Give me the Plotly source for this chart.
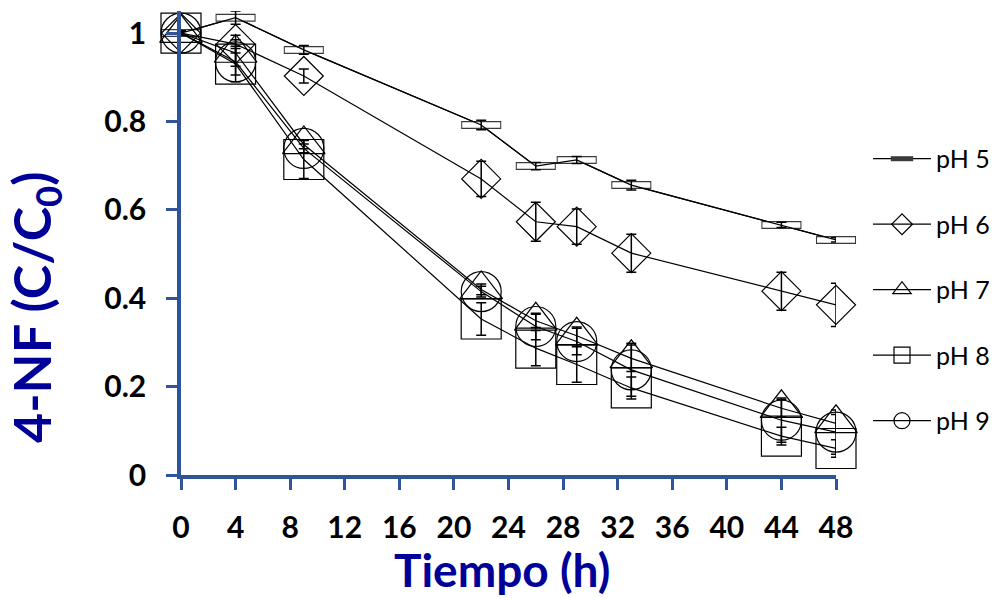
import plotly.graph_objects as go

# Sampling times (h)
tiempo = [0, 4, 9, 22, 26, 29, 33, 44, 48]

# Normalised 4-NF concentration C/C0 and standard deviations per pH
ph5 = [1.0, 1.035, 0.962, 0.792, 0.699, 0.713, 0.656, 0.566, 0.532]
ph5_err = [0.004, 0.015, 0.010, 0.011, 0.008, 0.008, 0.011, 0.006, 0.005]
ph6 = [1.0, 0.975, 0.903, 0.670, 0.573, 0.562, 0.502, 0.416, 0.385]
ph6_err = [0.004, 0.020, 0.016, 0.040, 0.044, 0.040, 0.043, 0.043, 0.049]
ph7 = [1.0, 0.955, 0.748, 0.420, 0.349, 0.315, 0.264, 0.151, 0.117]
ph7_err = [0.004, 0.030, 0.010, 0.012, 0.015, 0.020, 0.030, 0.020, 0.020]
ph8 = [1.0, 0.930, 0.714, 0.353, 0.287, 0.250, 0.197, 0.088, 0.060]
ph8_err = [0.004, 0.040, 0.043, 0.037, 0.040, 0.040, 0.025, 0.020, 0.020]
ph9 = [1.0, 0.935, 0.739, 0.415, 0.336, 0.302, 0.238, 0.124, 0.097]
ph9_err = [0.004, 0.030, 0.010, 0.012, 0.030, 0.030, 0.060, 0.050, 0.050]

x_ticks = list(range(0, 49, 4))
y_ticks = [0, 0.2, 0.4, 0.6, 0.8, 1.0]

AXIS_BLUE = "#2E5597"
TITLE_BLUE = "#000099"
FONT = "Lato"

fig = go.Figure()

def err(vals):
    return dict(type="data", array=vals, visible=True, color="black",
                thickness=1.5, width=5)

# pH 5: flat rectangles built from a dark bar with a white core
fig.add_trace(go.Scatter(
    x=tiempo, y=ph5, name="pH 5", legendgroup="5", mode="lines+markers",
    line=dict(color="black", width=1.2),
    marker=dict(symbol="line-ew", size=28.6, color="#3a3a3a",
                line=dict(color="#3a3a3a", width=8)),
    cliponaxis=False,
))
fig.add_trace(go.Scatter(
    x=tiempo, y=ph5, legendgroup="5", showlegend=False, mode="markers",
    marker=dict(symbol="line-ew", size=27.1, color="white",
                line=dict(color="white", width=5.5)),
    cliponaxis=False, hoverinfo="skip",
))
fig.add_trace(go.Scatter(
    x=tiempo, y=ph5, legendgroup="5", showlegend=False, mode="lines",
    line=dict(color="black", width=1.2), error_y=err(ph5_err),
    cliponaxis=False,
))

series = [
    ("pH 6", "6", ph6, ph6_err, "diamond-open", 30),
    ("pH 7", "7", ph7, ph7_err, "triangle-up-open", 37),
    ("pH 8", "8", ph8, ph8_err, "square-open", 40),
    ("pH 9", "9", ph9, ph9_err, "circle-open", 40),
]
for name, grp, vals, errs, sym, size in series:
    fig.add_trace(go.Scatter(
        x=tiempo, y=vals, name=name, legendgroup=grp, mode="lines+markers",
        line=dict(color="black", width=1.2),
        marker=dict(symbol=sym, size=size, color="black",
                    line=dict(color="black", width=1.2)),
        error_y=err(errs), cliponaxis=False,
    ))

axis_common = dict(
    showline=True, linecolor=AXIS_BLUE, linewidth=3.5,
    ticks="outside", tickcolor=AXIS_BLUE, tickwidth=3, ticklen=11,
    showgrid=False, zeroline=False,
    tickfont=dict(family=FONT, size=30, color="black", weight="bold"),
)

fig.update_layout(
    width=995, height=598,
    margin=dict(l=181, r=159, t=11, b=123, autoexpand=False),
    paper_bgcolor="white", plot_bgcolor="white",
    xaxis=dict(range=[0, 48], tickvals=x_ticks, ticklabelstandoff=12,
               **axis_common),
    yaxis=dict(range=[0, 1.05], tickvals=y_ticks, ticklabelstandoff=14,
               **axis_common),
    legend=dict(
        x=(868 - 181) / 655, xanchor="left", y=1 - (136 - 11) / 464.1,
        yanchor="top",
        traceorder="grouped", tracegroupgap=30, itemwidth=58,
        font=dict(family=FONT, size=25, color="black"),
        bgcolor="rgba(0,0,0,0)",
    ),
    annotations=[
        dict(text="Tiempo (h)", xref="paper", yref="paper",
             x=(502 - 181) / 655, y=-(570 - 475) / 464.1,
             xanchor="center", yanchor="middle", showarrow=False,
             font=dict(family=FONT, size=46, color=TITLE_BLUE, weight="bold")),
        dict(text="4-NF (C/C<sub>0</sub>)", xref="paper", yref="paper",
             x=(35 - 181) / 655, y=1 - (308 - 11) / 464.1, textangle=-90,
             xanchor="center", yanchor="middle", showarrow=False,
             font=dict(family=FONT, size=52, color=TITLE_BLUE, weight="bold")),
    ],
)

fig.write_html("out.html")
